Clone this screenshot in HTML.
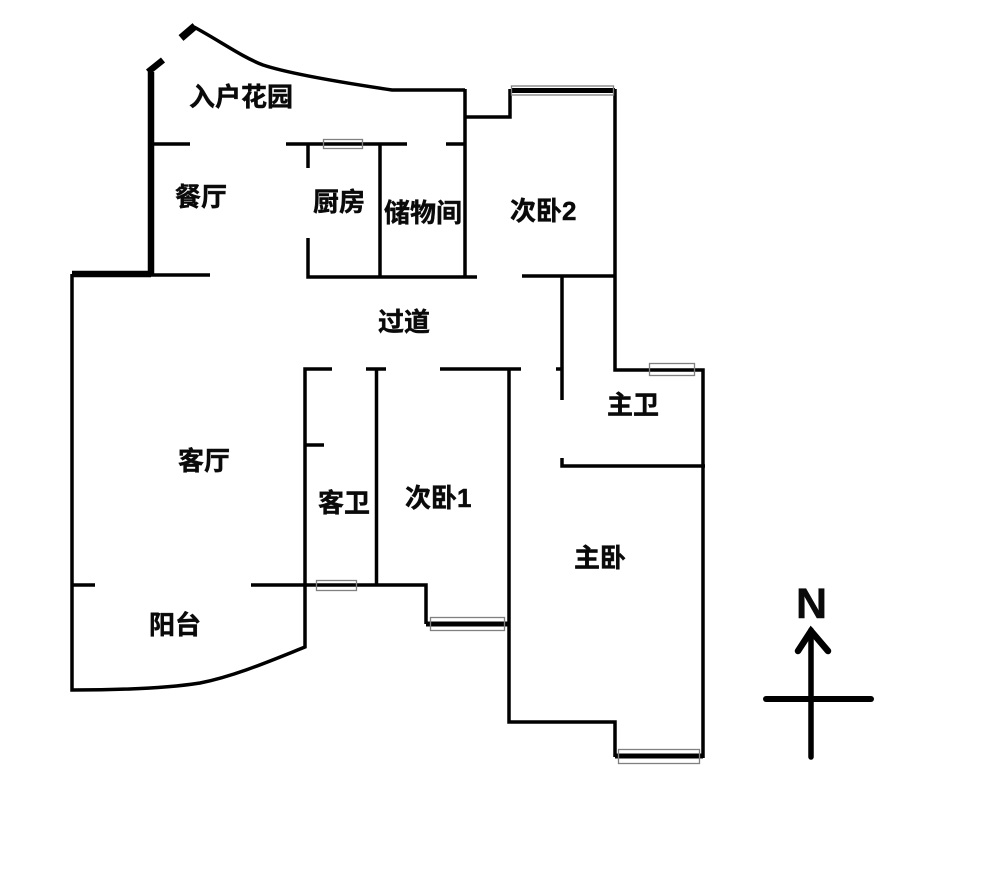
<!DOCTYPE html>
<html><head><meta charset="utf-8"><style>
html,body{margin:0;padding:0;background:#fff;width:1000px;height:879px;overflow:hidden}
svg{display:block}
text{font-family:"Liberation Sans","Noto Sans CJK SC",sans-serif;font-weight:bold;font-size:26px;fill:#0a0a0a;stroke:#0a0a0a;stroke-width:.45px}
</style></head><body>
<svg width="1000" height="879" viewBox="0 0 1000 879" xmlns="http://www.w3.org/2000/svg">
<rect width="1000" height="879" fill="#fff"/>
<g fill="none" stroke="#000" stroke-width="3.500">
<path d="M151 275V72" stroke-width="6.500"/>
<path d="M72 274H151" stroke-width="6.500"/>
<path d="M148 72L163 60" stroke-width="6.500"/>
<path d="M181 38L195 26" stroke-width="7.500"/>
<path d="M194 27C220 41 242 57 263 65C290 74 345 83 392 90H465"/>
<path d="M465 89V277"/>
<path d="M465 117H510V89"/>
<path d="M153 144H190M286 144H407M446 144H465"/>
<path d="M308 144V168M308 238V277H477"/>
<path d="M380 144V277"/>
<path d="M151 275H210"/>
<path d="M522 276H615"/>
<path d="M615 89V370H703V758"/>
<path d="M562 276V400M556 369H562"/>
<path d="M562 458V466H705"/>
<path d="M72 274V690C120 690 168 688 200 683C235 676 270 661 305 647V369H332"/>
<path d="M72 585H95M251 585H426V624"/>
<path d="M305 445H324"/>
<path d="M366 369H386M440 369H521"/>
<path d="M376.500 369V585"/>
<path d="M509 369V722H615V757"/>
<path d="M426 624H509" stroke-width="5"/>
<path d="M511 90.500H615" stroke-width="5"/>
<path d="M615 756H703" stroke-width="5"/>
</g>
<g fill="none" stroke="#808080" stroke-width="1.300">
<rect x="323.500" y="139.500" width="39" height="9"/>
<rect x="511.500" y="86" width="102" height="9"/>
<rect x="649.500" y="363.500" width="45" height="12"/>
<rect x="316.500" y="580.500" width="40" height="10"/>
<rect x="430.500" y="617.500" width="74" height="13"/>
<rect x="618.500" y="749.500" width="81" height="14"/>
</g>
<g fill="none" stroke="#000" stroke-linecap="round">
<path d="M811 630V757" stroke-width="5.500"/>
<path d="M798 651L811 631L828 651" stroke-width="6.500"/>
<path d="M766 699H871" stroke-width="6"/>
</g>
<text x="189" y="106">入户花园</text>
<text x="175" y="206">餐厅</text>
<text x="313" y="211">厨房</text>
<text x="384" y="222">储物间</text>
<text x="510" y="220">次卧2</text>
<text x="378" y="331">过道</text>
<text x="607" y="414">主卫</text>
<text x="178" y="470">客厅</text>
<text x="405" y="507">次卧1</text>
<text x="318" y="512">客卫</text>
<text x="574" y="567">主卧</text>
<text x="149" y="634">阳台</text>
<text x="796" y="618" style="font-size:43px">N</text>
</svg>
</body></html>
